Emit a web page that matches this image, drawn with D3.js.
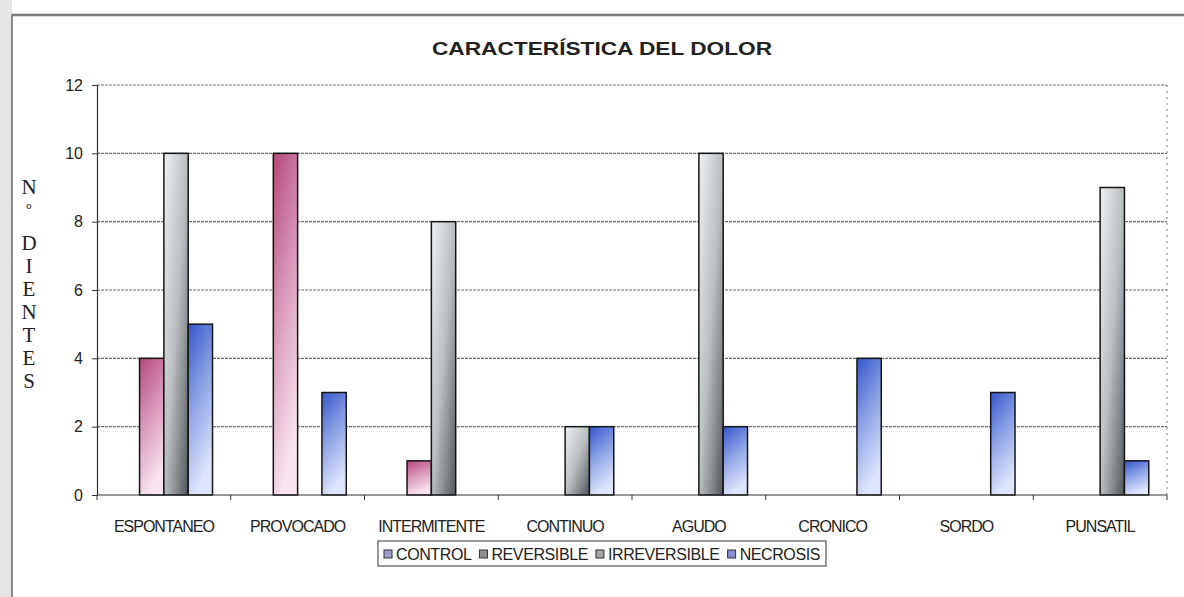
<!DOCTYPE html>
<html><head><meta charset="utf-8">
<script src="https://cdn.jsdelivr.net/npm/d3@7"></script>
<style>body{margin:0;background:#fff}svg{display:block}</style>
</head><body>
<script>
const categories = ["ESPONTANEO","PROVOCADO","INTERMITENTE","CONTINUO","AGUDO","CRONICO","SORDO","PUNSATIL"];
const seriesNames = ["CONTROL","REVERSIBLE","IRREVERSIBLE","NECROSIS"];
const control      = [0,0,0,0,0,0,0,0];
const reversible   = [4,10,1,0,0,0,0,0];
const irreversible = [10,0,8,2,10,0,0,9];
const necrosis     = [5,3,0,2,2,4,3,1];
const yTicks = [0,2,4,6,8,10,12];
const title = "CARACTERÍSTICA DEL DOLOR";
const yLabel = ["N","º","D","I","E","N","T","E","S"];

const W=1184,H=597;
const svg=d3.select("body").append("svg").attr("width",W).attr("height",H);
const defs=svg.append("defs");
function grad(id,x2,y2,stops){const g=defs.append("linearGradient").attr("id",id).attr("x1",0).attr("y1",0).attr("x2",x2).attr("y2",y2);
 stops.forEach(s=>g.append("stop").attr("offset",s[0]).attr("stop-color",s[1]));}
grad("gC",0,1,[[0,"#b9b9e6"],[1,"#e6e6f8"]]);
grad("gR",0.3,1,[[0,"#b4477b"],[0.45,"#d690b4"],[1,"#f7e2ee"]]);
grad("gI",1,1,[[0,"#eef1f3"],[0.5,"#b9bec1"],[1,"#50575b"]]);
grad("gN",0.3,1,[[0,"#3556cc"],[0.5,"#8ea3e6"],[1,"#dde4fb"]]);
const fills=["url(#gC)","url(#gR)","url(#gI)","url(#gN)"];

// page frame
svg.append("rect").attr("x",0).attr("y",0).attr("width",12).attr("height",H).attr("fill","#e4e4e4");
svg.append("line").attr("x1",12).attr("x2",12).attr("y1",14).attr("y2",H).attr("stroke","#8a8a8a").attr("stroke-width",2);
svg.append("line").attr("x1",12).attr("x2",W).attr("y1",15).attr("y2",15).attr("stroke","#7a7a7a").attr("stroke-width",2.5);

const x=d3.scaleBand().domain(categories).range([97,1167]).paddingInner(0).paddingOuter(0);
const x1=d3.scaleBand().domain(seriesNames).range([0,x.bandwidth()]).paddingInner(0).paddingOuter(0.75);
const y=d3.scaleLinear().domain([0,12]).range([495,85]);

// title
svg.append("text").attr("x",602).attr("y",55).attr("text-anchor","middle")
 .attr("font-family","'Liberation Sans Narrow','Arial Narrow','Liberation Sans',Arial,sans-serif")
 .attr("font-weight","bold").attr("font-size",19).attr("fill","#222")
 .attr("textLength",340).attr("lengthAdjust","spacingAndGlyphs").text(title);

// gridlines
svg.append("g").selectAll("line").data(yTicks.filter(d=>d>0)).join("line")
 .attr("x1",97).attr("x2",1167).attr("y1",d=>y(d)).attr("y2",d=>y(d))
 .attr("stroke","#6e6e6e").attr("stroke-width",1.2).attr("stroke-dasharray","3,1");
// right border dotted
svg.append("line").attr("x1",1167).attr("x2",1167).attr("y1",y(12)).attr("y2",y(0))
 .attr("stroke","#777").attr("stroke-width",1).attr("stroke-dasharray","2,4");

// y axis
const yAxis=d3.axisLeft(y).tickValues(yTicks).tickSize(5).tickPadding(9);
const gy=svg.append("g").attr("transform","translate(97,0)").call(yAxis);
gy.select(".domain").attr("stroke","#333").attr("stroke-width",1.2);
gy.selectAll(".tick line").attr("stroke","#333");
gy.selectAll(".tick text").attr("font-family","'Liberation Sans',Arial,sans-serif").attr("font-size",16).attr("fill","#222");

// y label
svg.append("g").selectAll("text").data(yLabel).join("text")
 .attr("x",29).attr("y",(d,i)=> i===0?194 : i===1?216 : 250+(i-2)*23).attr("text-anchor","middle")
 .attr("font-family","'Liberation Serif','Times New Roman',serif").attr("font-size",(d,i)=>i===1?17:21).attr("fill","#222")
 .text(d=>d);

// bars
const data=[control,reversible,irreversible,necrosis];
const g=svg.append("g");
seriesNames.forEach((s,si)=>{
 g.append("g").selectAll("rect").data(categories.map((c,ci)=>({c,v:data[si][ci]})).filter(d=>d.v>0)).join("rect")
  .attr("x",d=>x(d.c)+x1(s)).attr("width",x1.bandwidth())
  .attr("y",d=>y(d.v)).attr("height",d=>y(0)-y(d.v))
  .attr("fill",fills[si]).attr("stroke","#151515").attr("stroke-width",1.5);
});

// x axis
const gx=svg.append("g").attr("transform","translate(0,495)");
gx.append("line").attr("x1",97).attr("x2",1167).attr("stroke","#333").attr("stroke-width",1.2);
const bounds=categories.map(c=>x(c)).concat([x.range()[1]]);
gx.selectAll("line.t").data(bounds).join("line").attr("class","t")
 .attr("x1",d=>d).attr("x2",d=>d).attr("y1",0).attr("y2",5).attr("stroke","#333");
gx.selectAll("text").data(categories).join("text")
 .attr("x",d=>x(d)+x.bandwidth()/2).attr("y",37).attr("text-anchor","middle")
 .attr("font-family","'Liberation Sans',Arial,sans-serif").attr("font-size",16).attr("fill","#222")
 .attr("letter-spacing",-1).text(d=>d);

// legend
const lg=svg.append("g");
const box=lg.append("rect").attr("y",541).attr("height",25)
 .attr("fill","#fff").attr("stroke","#555").attr("stroke-width",1.2);
const swatch=["#9d9dd2","#8f8f92","#a3a5a8","#8b8bd6"];
let cx=0;
const items=lg.append("g");
seriesNames.forEach((s,i)=>{
 items.append("rect").attr("x",cx).attr("y",550).attr("width",8).attr("height",8)
  .attr("fill",swatch[i]).attr("stroke","#333").attr("stroke-width",1);
 const t=items.append("text").attr("x",cx+12).attr("y",560)
  .attr("font-family","'Liberation Sans',Arial,sans-serif").attr("font-size",16).attr("fill","#222")
  .attr("letter-spacing",-0.4).text(s);
 cx+=12+t.node().getComputedTextLength()+8;
});
const totalW=cx-8;
const startX=602-totalW/2;
items.attr("transform",`translate(${startX},0)`);
box.attr("x",startX-6).attr("width",totalW+12);
</script>
</body></html>
